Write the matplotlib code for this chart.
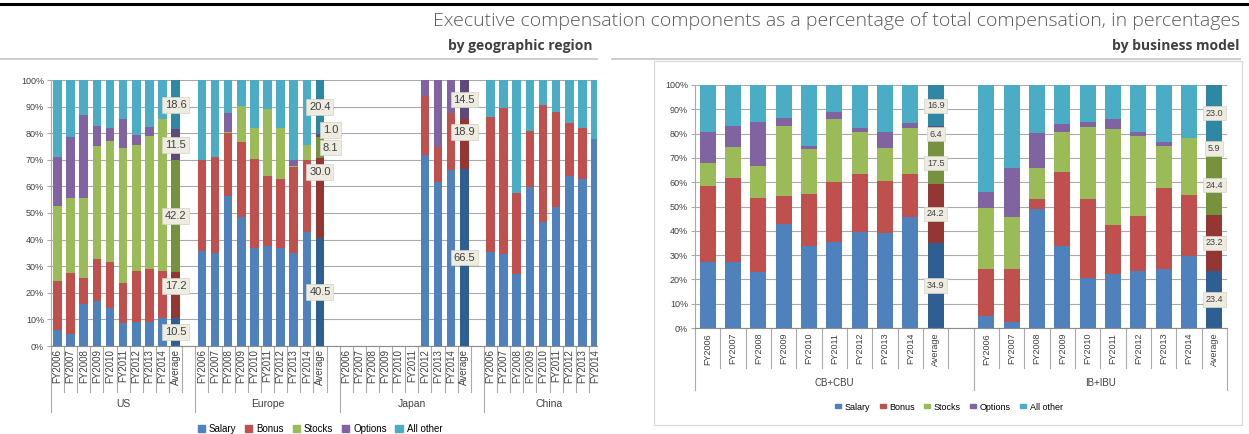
import numpy as np
import matplotlib
matplotlib.use("Agg")
import matplotlib.pyplot as plt
from matplotlib.patches import Patch, Rectangle
from matplotlib.lines import Line2D

# ---------------------------------------------------------------- data
components = ["Salary", "Bonus", "Stocks", "Options", "All other"]
periods = ["FY2006", "FY2007", "FY2008", "FY2009", "FY2010",
           "FY2011", "FY2012", "FY2013", "FY2014", "Average"]

regions = ["US", "Europe", "Japan", "China"]
business_models = ["CB+CBU", "IB+IBU"]

# by geographic region (percent of total compensation)
us_salary  = [6.1, 4.6, 15.9, 16.9, 14.4, 8.5, 9.2, 9.2, 10.5, 10.5]
us_bonus   = [18.4, 22.9, 9.8, 15.7, 17.0, 15.2, 18.9, 19.7, 17.7, 17.2]
us_stocks  = [28.1, 28.0, 29.8, 42.6, 45.6, 50.8, 47.4, 50.0, 57.0, 42.2]
us_options = [18.5, 22.9, 31.2, 7.6, 4.8, 10.7, 3.9, 3.5, 0.0, 11.5]
us_other   = [28.9, 21.6, 13.3, 17.2, 18.2, 14.8, 20.6, 17.6, 14.8, 18.6]

eu_salary  = [35.6, 34.8, 56.3, 48.6, 37.0, 37.6, 37.0, 34.8, 42.9, 40.5]
eu_bonus   = [34.5, 36.1, 23.6, 28.2, 33.3, 26.4, 25.6, 32.6, 27.0, 30.0]
eu_stocks  = [0.0, 0.0, 0.7, 13.4, 11.5, 25.1, 19.2, 0.4, 5.6, 8.1]
eu_options = [0.0, 0.0, 6.9, 0.0, 0.0, 0.0, 0.0, 2.3, 0.0, 1.0]
eu_other   = [29.9, 29.1, 12.5, 9.8, 18.2, 10.9, 18.2, 29.9, 24.5, 20.4]

jp_salary  = [0.0, 0.0, 0.0, 0.0, 0.0, 0.0, 71.8, 61.7, 66.1, 66.5]
jp_bonus   = [0.0, 0.0, 0.0, 0.0, 0.0, 0.0, 22.2, 13.0, 21.6, 18.9]
jp_stocks  = [0.0, 0.0, 0.0, 0.0, 0.0, 0.0, 0.0, 0.0, 0.0, 0.0]
jp_options = [0.0, 0.0, 0.0, 0.0, 0.0, 0.0, 6.0, 25.3, 12.3, 14.5]
jp_other   = [0.0, 0.0, 0.0, 0.0, 0.0, 0.0, 0.0, 0.0, 0.0, 0.0]

cn_salary  = [35.4, 34.5, 27.2, 59.8, 46.7, 52.1, 64.0, 62.6, 78.0]
cn_bonus   = [50.8, 55.1, 30.5, 21.0, 43.9, 36.0, 19.7, 19.2, 0.0]
cn_stocks  = [0.0, 0.0, 0.0, 0.0, 0.0, 0.0, 0.0, 0.0, 0.0]
cn_options = [0.0, 0.0, 0.0, 0.0, 0.0, 0.0, 0.0, 0.0, 0.0]
cn_other   = [13.8, 10.4, 42.3, 19.2, 9.4, 11.9, 16.3, 18.2, 22.0]

# by business model
cb_salary  = [27.0, 27.0, 22.9, 42.9, 33.8, 35.3, 39.5, 39.0, 45.6, 34.9]
cb_bonus   = [31.5, 34.6, 30.8, 11.6, 21.3, 24.7, 23.8, 21.5, 17.7, 24.2]
cb_stocks  = [9.6, 12.8, 13.1, 28.8, 18.5, 26.0, 17.5, 13.5, 18.9, 17.5]
cb_options = [12.4, 8.9, 18.1, 3.0, 1.3, 3.0, 1.4, 6.8, 2.0, 6.4]
cb_other   = [19.5, 16.7, 15.1, 13.7, 25.1, 11.0, 17.8, 19.2, 15.8, 16.9]

ib_salary  = [4.8, 2.5, 48.9, 33.8, 20.5, 22.2, 23.3, 24.4, 29.7, 23.4]
ib_bonus   = [19.4, 21.7, 4.3, 30.6, 32.7, 20.0, 22.6, 33.1, 25.1, 23.2]
ib_stocks  = [25.1, 21.3, 12.8, 16.4, 29.7, 39.7, 33.3, 17.4, 23.3, 24.4]
ib_options = [6.6, 20.5, 14.1, 3.0, 2.0, 4.0, 1.3, 1.5, 0.0, 5.9]
ib_other   = [44.1, 34.0, 19.9, 16.2, 15.1, 14.1, 19.5, 23.6, 21.9, 23.0]

geo_groups = [
    (us_salary, us_bonus, us_stocks, us_options, us_other),
    (eu_salary, eu_bonus, eu_stocks, eu_options, eu_other),
    (jp_salary, jp_bonus, jp_stocks, jp_options, jp_other),
    (cn_salary, cn_bonus, cn_stocks, cn_options, cn_other),
]
biz_groups = [
    (cb_salary, cb_bonus, cb_stocks, cb_options, cb_other),
    (ib_salary, ib_bonus, ib_stocks, ib_options, ib_other),
]

# ---------------------------------------------------------------- style
W, H, DPI = 1249, 434, 100
base_colors = ["#4F81BD", "#C0504D", "#9BBB59", "#8064A2", "#4BACC6"]
avg_colors = ["#2F5E93", "#943634", "#76923C", "#5F497A", "#2E87A3"]
grid_c = "#A9A9A9"
txt_c = "#404040"
small_font = "Liberation Sans"

# nudges for the value boxes on the average bars: (dx in slots, dy in %)
geo_label_nudge = {
    (0, 1): (0.0, 3.4),
    (1, 1): (0.0, 10.0),
    (1, 2): (0.8, 0.0),
    (1, 3): (0.8, 2.1),
    (2, 1): (0.0, 4.6),
}


def fx(x):
    return x / W


def fy(y):
    return 1 - y / H


def stacked(ax, positions, series, is_avg, width):
    bottom = np.zeros(len(positions))
    for k, vals in enumerate(series):
        vals = np.asarray(vals, float)
        cols = [avg_colors[k] if a else base_colors[k] for a in is_avg]
        ax.bar(positions, vals, width, bottom=bottom, color=cols,
               linewidth=0, zorder=2)
        bottom += vals


def value_boxes(ax, x, series_at, fontsize, nudges, group_idx, pad):
    bottom = 0.0
    for k, v in enumerate(series_at):
        if v > 0:
            dx, dy = nudges.get((group_idx, k), (0.0, 0.0))
            ax.text(x + dx, bottom + v / 2 + dy, f"{v:.1f}", ha="center",
                    va="center", fontsize=fontsize, color=txt_c,
                    family=small_font, zorder=5,
                    bbox=dict(boxstyle=f"square,pad={pad}", fc="#EEECE1",
                              ec="#D6D3C4", lw=0.5))
        bottom += v


def style_axes(ax, xlim):
    ax.set_xlim(*xlim)
    ax.set_ylim(0, 100)
    ax.set_yticks(np.arange(0, 101, 10))
    ax.set_yticklabels([f"{v}%" for v in range(0, 101, 10)])
    ax.yaxis.grid(True, color=grid_c, lw=0.8, zorder=0)
    ax.set_axisbelow(True)
    ax.set_xticks([])
    for s in ("top", "right"):
        ax.spines[s].set_visible(False)
    ax.spines["left"].set_color(grid_c)
    ax.spines["bottom"].set_color("#8C8C8C")
    ax.spines["left"].set_linewidth(0.8)
    ax.spines["bottom"].set_linewidth(0.8)
    ax.tick_params(axis="y", length=3, width=0.8, color=grid_c, pad=2,
                   labelsize=6.5, labelcolor=txt_c)
    for lab in ax.get_yticklabels():
        lab.set_family(small_font)


def category_axis(ax, height_px, positions, labels, separators, groups,
                  label_gap, short_len, long_len, group_y, fontsize):
    tr = ax.get_xaxis_transform()
    for x, lab in zip(positions, labels):
        ax.text(x, -label_gap / height_px, lab, rotation=90, ha="center",
                va="top", fontsize=fontsize, color=txt_c, family=small_font,
                transform=tr, clip_on=False)
    for x, is_long in separators:
        L = long_len if is_long else short_len
        ax.plot([x, x], [0, -L / height_px], color=grid_c, lw=0.8,
                transform=tr, clip_on=False)
    for xc, name in groups:
        ax.text(xc, -group_y / height_px, name, ha="center", va="center",
                fontsize=fontsize + 0.5, color=txt_c, family=small_font,
                transform=tr, clip_on=False)


fig = plt.figure(figsize=(W / DPI, H / DPI), dpi=DPI)
fig.patch.set_facecolor("white")

# ---------------------------------------------------------------- header
fig.add_artist(Line2D([0, 1], [fy(3.5)] * 2, color="black", lw=2.2))
fig.text(fx(1240), fy(21),
         "Executive compensation components as a percentage of total "
         "compensation, in percentages",
         ha="right", va="center", fontsize=14, family="Open Sans",
         fontweight="light", color="#595959")
fig.text(fx(592), fy(46), "by geographic region", ha="right", va="center",
         fontsize=10, family="Open Sans", fontweight="bold", color=txt_c)
fig.text(fx(1240), fy(46), "by business model", ha="right", va="center",
         fontsize=10, family="Open Sans", fontweight="bold", color=txt_c)
fig.add_artist(Line2D([0, fx(597)], [fy(59)] * 2, color="#C8C8C8", lw=1.3))
fig.add_artist(Line2D([fx(612), fx(1240)], [fy(59)] * 2, color="#C8C8C8",
                      lw=1.3))
fig.add_artist(Rectangle((fx(654), fy(425)), fx(1242) - fx(654),
                         fy(61) - fy(425), fill=False, ec="#D9D9D9", lw=0.9,
                         transform=fig.transFigure))

# ---------------------------------------------------------------- by region
slot_l = 13.12
axL = fig.add_axes([fx(51), fy(346), fx(597) - fx(51), fy(80) - fy(346)])
xmax_l = -0.5 + (597 - 51) / slot_l
style_axes(axL, (-0.5, xmax_l))

all_pos, all_lab = [], []
for g, series in enumerate(geo_groups):
    n = len(series[0])
    pos = np.arange(n) + 11 * g
    is_avg = [periods[j] == "Average" for j in range(n)]
    stacked(axL, pos, series, is_avg, 0.66)
    if n == len(periods):
        value_boxes(axL, pos[-1], [s[-1] for s in series], 8,
                    geo_label_nudge, g, 0.25)
    all_pos.extend(pos)
    all_lab.extend(periods[:n])

sep_l = [(k - 0.5, k % 11 == 0) for k in range(0, 44) if k - 0.5 <= xmax_l]
grp_l = [(11 * g + 5 if g < 3 else 11 * g + 4.5, name)
         for g, name in enumerate(regions)]
category_axis(axL, 266, all_pos, all_lab, sep_l, grp_l, label_gap=3,
              short_len=46, long_len=66, group_y=58, fontsize=7)

fig.legend([Patch(color=c) for c in base_colors], components,
           loc="center", bbox_to_anchor=(fx(320), fy(429)), ncol=5,
           frameon=False, prop=dict(family=small_font, size=7),
           handlelength=0.75, handleheight=0.75, handletextpad=0.4,
           columnspacing=0.9, borderpad=0)

# ---------------------------------------------------------------- by model
axR = fig.add_axes([fx(695), fy(328), fx(1227) - fx(695), fy(85) - fy(328)])
style_axes(axR, (-0.5, 20.5))

all_pos, all_lab = [], []
for g, series in enumerate(biz_groups):
    n = len(series[0])
    pos = np.arange(n) + 11 * g
    is_avg = [periods[j] == "Average" for j in range(n)]
    stacked(axR, pos, series, is_avg, 0.64)
    value_boxes(axR, pos[-1], [s[-1] for s in series], 6.5, {}, g, 0.3)
    all_pos.extend(pos)
    all_lab.extend(periods[:n])

sep_r = [(k - 0.5, k in (0, 11, 21)) for k in range(0, 22)]
grp_r = [(5, business_models[0]), (15.5, business_models[1])]
category_axis(axR, 243, all_pos, all_lab, sep_r, grp_r, label_gap=5,
              short_len=40, long_len=62, group_y=55, fontsize=6.5)

fig.legend([Patch(color=c) for c in base_colors], components,
           loc="center", bbox_to_anchor=(fx(949), fy(407)), ncol=5,
           frameon=False, prop=dict(family=small_font, size=6.5),
           handlelength=0.7, handleheight=0.35, handletextpad=0.4,
           columnspacing=1.0, borderpad=0)

fig.savefig("out.png", dpi=DPI, facecolor="white")
